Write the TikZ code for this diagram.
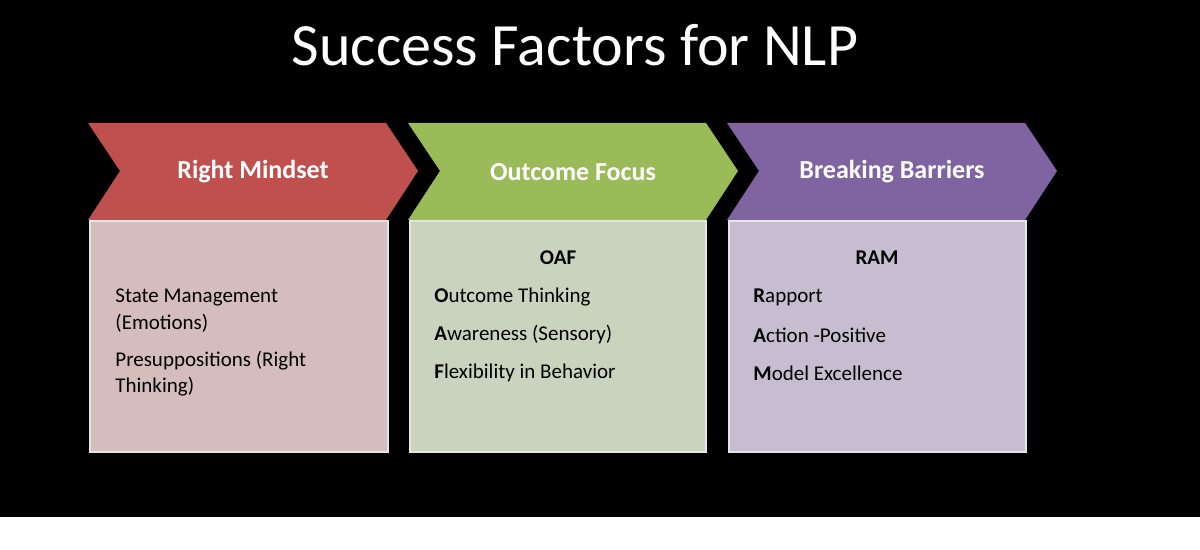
\documentclass[tikz,border=0pt]{standalone}
\usepackage{fontspec}
\setmainfont{Carlito}
\definecolor{redchev}{HTML}{C0504D}
\definecolor{redbox}{HTML}{D4BDBC}
\definecolor{greenchev}{HTML}{9BBB59}
\definecolor{greenbox}{HTML}{C9D3BD}
\definecolor{purplechev}{HTML}{8064A2}
\definecolor{purplebox}{HTML}{C6BDD0}
\tikzset{
  chev/.style={font=\fontsize{13}{15}\selectfont\bfseries, text=white},
  box/.style={draw=white!80!gray, line width=1pt},
  item/.style={anchor=west, font=\fontsize{10.5}{12}\selectfont, inner sep=0pt}
}
\begin{document}
\begin{tikzpicture}[x=0.5pt,y=-0.5pt]
  \fill[white] (0,0) rectangle (1200,550);
  \fill[black] (0,0) rectangle (1200,517);
  \useasboundingbox (0,0) rectangle (1200,550);

  \node[text=white, font=\fontsize{30}{34}\selectfont] (title) at (575,45) {Success Factors for NLP};

  % chevrons
  \fill[redchev] (88,123) -- (386,123) -- (418,171) -- (386,220) -- (88,220) -- (120,171) -- cycle;
  \fill[greenchev] (408,123) -- (706,123) -- (738,171) -- (706,220) -- (408,220) -- (440,171) -- cycle;
  \fill[purplechev] (727,123) -- (1025,123) -- (1057,171) -- (1025,220) -- (727,220) -- (759,171) -- cycle;
  \node[chev] (mindset) at (253,172) {Right Mindset};
  \node[chev] (focus) at (573,172) {Outcome Focus};
  \node[chev] (barriers) at (892,172) {Breaking Barriers};

  % boxes
  \filldraw[box, fill=redbox] (90,221) rectangle (388,452);
  \filldraw[box, fill=greenbox] (410,221) rectangle (706,452);
  \filldraw[box, fill=purplebox] (729,221) rectangle (1026,452);

  \node[item] (state) at (115,297) {State Management};
  \node[item] (emo) at (115,323) {(Emotions)};
  \node[item] (presup) at (115,361) {Presuppositions (Right};
  \node[item] (think) at (115,387) {Thinking)};

  \node[font=\fontsize{10.5}{12}\selectfont\bfseries, inner sep=0pt] (oaf) at (558,258) {OAF};
  \node[item] (outcome) at (434,297) {\textbf{O}utcome Thinking};
  \node[item] (aware) at (434,335) {\textbf{A}wareness (Sensory)};
  \node[item] (flex) at (434,373) {\textbf{F}lexibility in Behavior};

  \node[font=\fontsize{10.5}{12}\selectfont\bfseries, inner sep=0pt] (ram) at (877,258) {RAM};
  \node[item] (rapport) at (753,297) {\textbf{R}apport};
  \node[item] (action) at (753,335) {\textbf{A}ction -Positive};
  \node[item] (model) at (753,373) {\textbf{M}odel Excellence};
\end{tikzpicture}
\end{document}
